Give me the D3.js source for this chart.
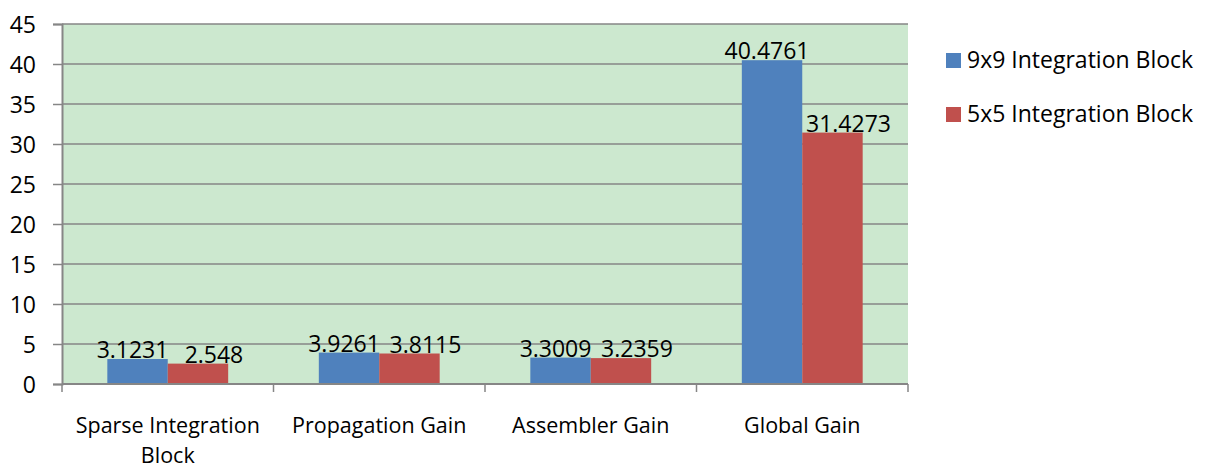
<!DOCTYPE html>
<html>
<head>
<meta charset="utf-8">
<script src="https://cdn.jsdelivr.net/npm/d3@7/dist/d3.min.js"></script>
<style>
  html, body { margin: 0; padding: 0; background: #fff; }
  svg text { font-family: "Open Sans", "Noto Sans", sans-serif; fill: #000; }
</style>
</head>
<body>
<svg id="chart" width="1205" height="468"></svg>
<script>
// Chart data
const categories = [["Sparse Integration", "Block"], ["Propagation Gain"], ["Assembler Gain"], ["Global Gain"]];
const seriesNames = ["9x9 Integration Block", "5x5 Integration Block"];
const series9x9 = [3.1231, 3.9261, 3.3009, 40.4761];
const series5x5 = [2.548, 3.8115, 3.2359, 31.4273];
const yTicks = [0, 5, 10, 15, 20, 25, 30, 35, 40, 45];
const colors = ["#4F81BD", "#C0504D"];

const numSize = 23;
const legendSize = 23;
const catSize = 21.5;
// Value labels are nudged apart so neighbouring labels don't collide
const labelNudge = [-5, 16];

const svg = d3.select("#chart");
const plot = { left: 62, right: 908, top: 24, bottom: 384 };

const x = d3.scaleBand()
  .domain(d3.range(categories.length))
  .range([plot.left, plot.right])
  .paddingInner(0).paddingOuter(0);

// Two bars + 150% gap per category
const x1 = d3.scaleBand()
  .domain([0, 1])
  .range([0, x.bandwidth()])
  .paddingInner(0)
  .paddingOuter(0.75);

const y = d3.scaleLinear().domain([0, 45]).range([plot.bottom, plot.top]);

// Plot background
svg.append("rect")
  .attr("x", plot.left).attr("y", plot.top)
  .attr("width", plot.right - plot.left).attr("height", plot.bottom - plot.top)
  .attr("fill", "#CCE8CF");

// Horizontal gridlines
svg.append("g")
  .selectAll("line")
  .data(yTicks.filter(d => d > 0))
  .join("line")
  .attr("x1", plot.left).attr("x2", plot.right)
  .attr("y1", d => y(d)).attr("y2", d => y(d))
  .attr("stroke", "#868686").attr("stroke-width", 1.5);

// Y axis
const yAxis = svg.append("g")
  .attr("transform", `translate(${plot.left},0)`)
  .call(d3.axisLeft(y).tickValues(yTicks).tickSize(9).tickPadding(17));
yAxis.select(".domain").attr("stroke", "#868686").attr("stroke-width", 2);
yAxis.selectAll(".tick line").attr("stroke", "#868686").attr("stroke-width", 1.5);
yAxis.selectAll(".tick text")
  .attr("font-size", numSize).attr("font-family", "'Open Sans', sans-serif")
  .attr("fill", "#000").attr("dy", "0.36em");

// Bars
const data = categories.map((c, i) => [series9x9[i], series5x5[i]]);
const groups = svg.append("g")
  .selectAll("g")
  .data(data)
  .join("g")
  .attr("transform", (d, i) => `translate(${x(i)},0)`);

groups.selectAll("rect")
  .data(d => d)
  .join("rect")
  .attr("x", (d, j) => x1(j))
  .attr("width", x1.bandwidth())
  .attr("y", d => y(d))
  .attr("height", d => y(0) - y(d))
  .attr("fill", (d, j) => colors[j]);

// Value labels
groups.selectAll("text")
  .data(d => d)
  .join("text")
  .attr("x", (d, j) => x1(j) + x1.bandwidth() / 2 + labelNudge[j])
  .attr("y", d => y(d) - 1)
  .attr("text-anchor", "middle")
  .attr("font-size", numSize)
  .text(d => String(d));

// X axis (baseline and category ticks)
const xAxisG = svg.append("g");
xAxisG.append("line")
  .attr("x1", plot.left).attr("x2", plot.right)
  .attr("y1", plot.bottom).attr("y2", plot.bottom)
  .attr("stroke", "#868686").attr("stroke-width", 2);
xAxisG.selectAll("line.tick")
  .data(d3.range(categories.length + 1))
  .join("line")
  .attr("class", "tick")
  .attr("x1", i => i < categories.length ? x(i) : plot.right)
  .attr("x2", i => i < categories.length ? x(i) : plot.right)
  .attr("y1", plot.bottom).attr("y2", plot.bottom + 8)
  .attr("stroke", "#868686").attr("stroke-width", 1.5);

// Category labels
const catLabels = svg.append("g")
  .selectAll("text")
  .data(categories)
  .join("text")
  .attr("text-anchor", "middle")
  .attr("font-size", catSize)
  .attr("transform", (d, i) => `translate(${x(i) + x.bandwidth() / 2},433)`);
catLabels.selectAll("tspan")
  .data(d => d)
  .join("tspan")
  .attr("x", 0)
  .attr("dy", (d, k) => k === 0 ? 0 : 29.5)
  .text(d => d);

// Legend
const legend = svg.append("g")
  .selectAll("g")
  .data(seriesNames)
  .join("g")
  .attr("transform", (d, i) => `translate(946,${53 + i * 54})`);
legend.append("rect")
  .attr("width", 15).attr("height", 15)
  .attr("fill", (d, i) => colors[i]);
legend.append("text")
  .attr("x", 21).attr("y", 15)
  .attr("font-size", legendSize)
  .text(d => d);
</script>
</body>
</html>
